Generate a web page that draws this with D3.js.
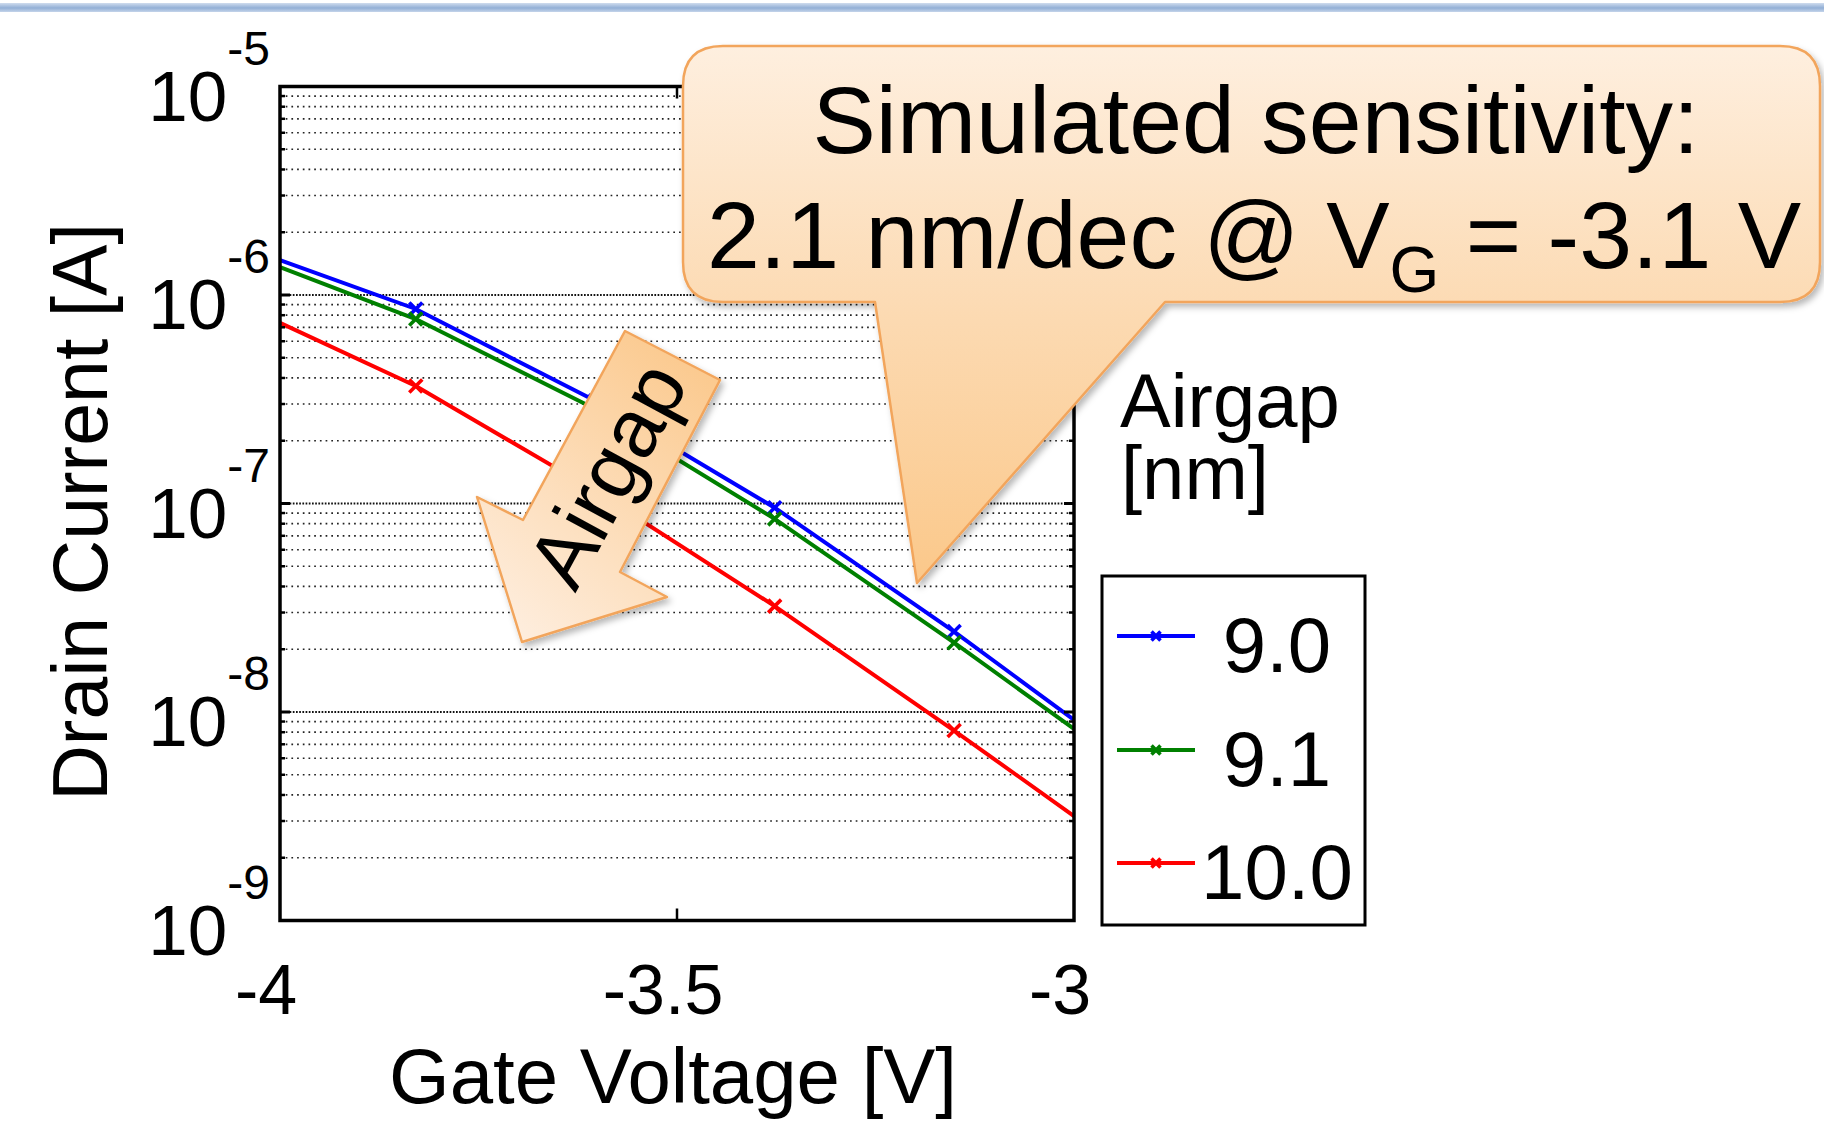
<!DOCTYPE html>
<html lang="en">
<head>
<meta charset="UTF-8">
<title>Drain current vs gate voltage</title>
<style>
    body{
        margin: 0;
        background: #fff;
        font-family: "Liberation Sans", Arial, Helvetica, sans-serif;
    }
    svg text{
        fill: #000;
    }
</style>
</head>
<body>
<div id="chart"></div>
<script src="https://d3js.org/d3.v7.min.js"></script>
<script>

// values
const gateV   = [-4, -3.829, -3.603, -3.377, -3.151, -3];
const id_9_0  = [1.47e-6, 8.57e-7, 3.11e-7, 9.55e-8, 2.43e-8, 9.17e-9];
const id_9_1  = [1.36e-6, 7.67e-7, 2.84e-7, 8.44e-8, 2.15e-8, 8.30e-9];
const id_10_0 = [7.35e-7, 3.66e-7, 1.15e-7, 3.22e-8, 8.15e-9, 3.17e-9];

const seriesNames  = ["9.0", "9.1", "10.0"];
const seriesColors = ["#0000ff", "#008000", "#ff0000"];
const decades      = [-9, -8, -7, -6, -5];
const xTicks       = [-4, -3.5, -3];
const xTickLabels  = ["-4", "-3.5", "-3"];

const W = 1824, H = 1125;
const margin = {left: 280, right: 750, top: 86.5, bottom: 204.5};

const svg = d3.select("#chart").append("svg")
    .attr("width", W).attr("height", H);

const defs = svg.append("defs");

let band = defs.append("linearGradient").attr("id", "band")
    .attr("x1", 0).attr("y1", 0).attr("x2", 0).attr("y2", 1);
band.append("stop").attr("offset", "0%").attr("stop-color", "#cfdcee");
band.append("stop").attr("offset", "55%").attr("stop-color", "#92afd6");
band.append("stop").attr("offset", "100%").attr("stop-color", "#c4d4ea");

let callGrad = defs.append("linearGradient").attr("id", "callGrad")
    .attr("gradientUnits", "userSpaceOnUse")
    .attr("x1", 0).attr("y1", 46).attr("x2", 0).attr("y2", 583);
callGrad.append("stop").attr("offset", "0%").attr("stop-color", "#feefdf");
callGrad.append("stop").attr("offset", "50%").attr("stop-color", "#fcdab2");
callGrad.append("stop").attr("offset", "100%").attr("stop-color", "#fbc88a");

let arrowGrad = defs.append("linearGradient").attr("id", "arrowGrad")
    .attr("gradientUnits", "userSpaceOnUse")
    .attr("x1", 720).attr("y1", 360).attr("x2", 500).attr("y2", 630);
arrowGrad.append("stop").attr("offset", "0%").attr("stop-color", "#fbc88b");
arrowGrad.append("stop").attr("offset", "100%").attr("stop-color", "#feeedf");

let shadow = defs.append("filter").attr("id", "shadow")
    .attr("x", "-10%").attr("y", "-10%").attr("width", "130%").attr("height", "130%");
shadow.append("feDropShadow").attr("dx", 3).attr("dy", 4)
    .attr("stdDeviation", 3).attr("flood-color", "#000").attr("flood-opacity", 0.28);

// slide band at the very top
svg.append("rect").attr("x", 0).attr("y", 3).attr("width", W).attr("height", 9)
    .attr("fill", "url(#band)");

let width = W - margin.left - margin.right,
    height = H - margin.top - margin.bottom;

let xScale = d3.scaleLinear().domain([-4, -3]).range([margin.left, margin.left + width]);
let yScale = d3.scaleLog().domain([1e-9, 1e-5]).range([margin.top + height, margin.top]);

// minor grid values 2..9 x 10^n
let minor = [];
decades.slice(0, -1).forEach(p => {
    for (let k = 2; k <= 9; k++) minor.push(k * Math.pow(10, p));
});
let major = decades.map(p => Math.pow(10, p));

let grid = svg.append("g");
grid.selectAll(".minor")
    .data(minor)
    .join("line")
    .attr("x1", margin.left).attr("x2", margin.left + width)
    .attr("y1", d => yScale(d)).attr("y2", d => yScale(d))
    .attr("stroke", "#222").attr("stroke-width", 1.7)
    .attr("stroke-dasharray", "1.7 4");
grid.selectAll(".major")
    .data(major.slice(1, -1))
    .join("line")
    .attr("x1", margin.left).attr("x2", margin.left + width)
    .attr("y1", d => yScale(d)).attr("y2", d => yScale(d))
    .attr("stroke", "#111").attr("stroke-width", 2)
    .attr("stroke-dasharray", "1.7 1.5");

// lines
let allSeries = [id_9_0, id_9_1, id_10_0].map((vals, i) => ({
    name: seriesNames[i],
    color: seriesColors[i],
    values: gateV.map((v, j) => ({v: v, id: vals[j]}))
}));

let line = d3.line()
    .x(d => xScale(d.v))
    .y(d => yScale(d.id));

let plot = svg.append("g");
plot.selectAll(".curve")
    .data(allSeries)
    .join("path")
    .attr("d", d => line(d.values))
    .attr("fill", "none")
    .attr("stroke", d => d.color)
    .attr("stroke-width", 4);

function cross(g, cx, cy, r, color) {
    g.append("path")
        .attr("d", `M${cx - r},${cy - r}L${cx + r},${cy + r}M${cx - r},${cy + r}L${cx + r},${cy - r}`)
        .attr("stroke", color).attr("stroke-width", 3.6).attr("fill", "none");
}

allSeries.forEach(s => {
    s.values.filter(d => d.v > -4 && d.v < -3).forEach(d => {
        cross(plot, xScale(d.v), yScale(d.id), 6.5, s.color);
    });
});

// axes box
svg.append("rect")
    .attr("x", margin.left).attr("y", margin.top)
    .attr("width", width).attr("height", height)
    .attr("fill", "none").attr("stroke", "#000").attr("stroke-width", 3.5);

// inner ticks
let ticks = svg.append("g").attr("stroke", "#000");
minor.forEach(d => {
    ticks.append("line").attr("x1", margin.left).attr("x2", margin.left + 5)
        .attr("y1", yScale(d)).attr("y2", yScale(d)).attr("stroke-width", 2.5);
    ticks.append("line").attr("x1", margin.left + width - 5).attr("x2", margin.left + width)
        .attr("y1", yScale(d)).attr("y2", yScale(d)).attr("stroke-width", 2.5);
});
major.forEach(d => {
    ticks.append("line").attr("x1", margin.left).attr("x2", margin.left + 10)
        .attr("y1", yScale(d)).attr("y2", yScale(d)).attr("stroke-width", 3);
    ticks.append("line").attr("x1", margin.left + width - 10).attr("x2", margin.left + width)
        .attr("y1", yScale(d)).attr("y2", yScale(d)).attr("stroke-width", 3);
});
ticks.append("line").attr("x1", xScale(-3.5)).attr("x2", xScale(-3.5))
    .attr("y1", margin.top + height).attr("y2", margin.top + height - 12).attr("stroke-width", 2.5);
ticks.append("line").attr("x1", xScale(-3.5)).attr("x2", xScale(-3.5))
    .attr("y1", margin.top).attr("y2", margin.top + 12).attr("stroke-width", 2.5);

// y tick labels 10^n
let yLab = svg.selectAll(".ylab")
    .data(decades)
    .join("text")
    .attr("x", 270)
    .attr("y", d => yScale(Math.pow(10, d)) + 34)
    .attr("text-anchor", "end")
    .attr("font-size", 71);
yLab.append("tspan").text("10");
yLab.append("tspan").attr("dy", -56).attr("font-size", 48).text(d => String(d));

// x tick labels
svg.selectAll(".xlab")
    .data(xTicks)
    .join("text")
    .attr("x", d => xScale(d) - 14)
    .attr("y", 1014)
    .attr("text-anchor", "middle")
    .attr("font-size", 70)
    .text((d, i) => xTickLabels[i]);

// axis titles
svg.append("text")
    .attr("x", xScale(-3.5) - 4).attr("y", 1103)
    .attr("text-anchor", "middle")
    .attr("font-size", 78)
    .text("Gate Voltage [V]");

svg.append("text")
    .attr("transform", `translate(107,512) rotate(-90)`)
    .attr("text-anchor", "middle")
    .attr("font-size", 77)
    .text("Drain Current [A]");

// legend
svg.append("text").attr("x", 1120).attr("y", 427).attr("font-size", 76).text("Airgap");
svg.append("text").attr("x", 1121).attr("y", 499).attr("font-size", 76).text("[nm]");

let leg = svg.append("g");
leg.append("rect")
    .attr("x", 1102).attr("y", 576).attr("width", 263).attr("height", 349)
    .attr("fill", "#fff").attr("stroke", "#000").attr("stroke-width", 3);

let legY = [636, 750, 863];
allSeries.forEach((s, i) => {
    leg.append("line")
        .attr("x1", 1117).attr("x2", 1195)
        .attr("y1", legY[i]).attr("y2", legY[i])
        .attr("stroke", s.color).attr("stroke-width", 4);
    cross(leg, 1156, legY[i], 4.5, s.color);
    leg.append("text")
        .attr("x", 1277).attr("y", legY[i] + 36)
        .attr("text-anchor", "middle")
        .attr("font-size", 78)
        .text(s.name);
});

// "Airgap" block arrow
let arrowPts = [[625, 331], [720, 380], [620, 572], [667, 597], [522, 642], [477, 497], [523, 520]];
svg.append("path")
    .attr("d", "M" + arrowPts.map(p => p.join(",")).join("L") + "Z")
    .attr("fill", "url(#arrowGrad)")
    .attr("stroke", "#f2a55c").attr("stroke-width", 2.5)
    .attr("stroke-linejoin", "round")
    .attr("filter", "url(#shadow)");
svg.append("text")
    .attr("transform", "translate(606,474) rotate(-61.6)")
    .attr("text-anchor", "middle")
    .attr("dy", 30)
    .attr("font-size", 83)
    .text("Airgap");

// callout bubble
let bx0 = 683, by0 = 46, bx1 = 1820, by1 = 302, r = 40;
let tailL = 875, tailR = 1165, tipX = 917, tipY = 583;
let bubble = `M${bx0 + r},${by0}` +
    `L${bx1 - r},${by0}Q${bx1},${by0} ${bx1},${by0 + r}` +
    `L${bx1},${by1 - r}Q${bx1},${by1} ${bx1 - r},${by1}` +
    `L${tailR},${by1}L${tipX},${tipY}L${tailL},${by1}` +
    `L${bx0 + r},${by1}Q${bx0},${by1} ${bx0},${by1 - r}` +
    `L${bx0},${by0 + r}Q${bx0},${by0} ${bx0 + r},${by0}Z`;
svg.append("path")
    .attr("d", bubble)
    .attr("fill", "url(#callGrad)")
    .attr("stroke", "#f2a55c").attr("stroke-width", 2.5)
    .attr("stroke-linejoin", "round")
    .attr("filter", "url(#shadow)");

svg.append("text")
    .attr("x", 1256).attr("y", 153)
    .attr("text-anchor", "middle")
    .attr("font-size", 95)
    .text("Simulated sensitivity:");

let l2 = svg.append("text")
    .attr("x", 1254).attr("y", 268)
    .attr("text-anchor", "middle")
    .attr("font-size", 95);
l2.append("tspan").text("2.1 nm/dec @ V");
l2.append("tspan").attr("font-size", 64).attr("dy", 24).text("G");
l2.append("tspan").attr("dy", -24).text(" = -3.1 V");

</script>
</body>
</html>
